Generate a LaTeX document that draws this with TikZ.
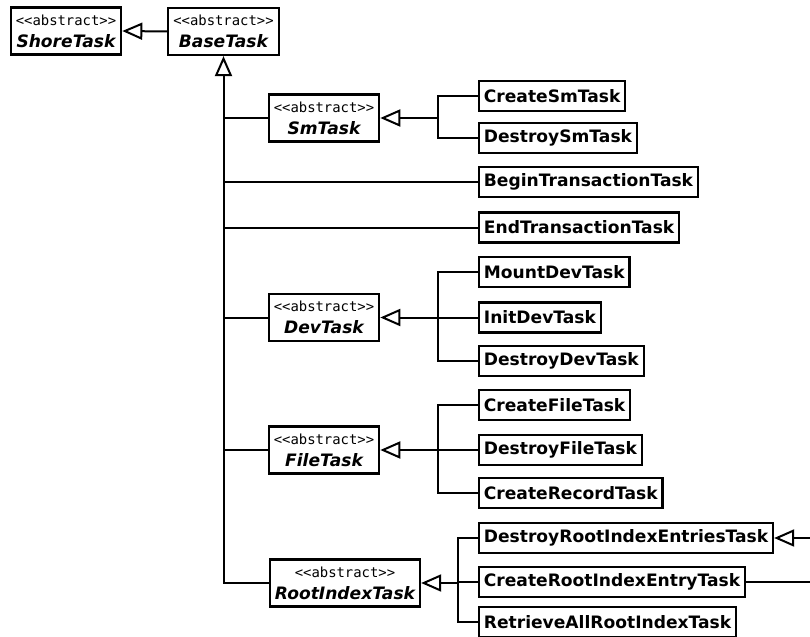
\documentclass[tikz,border=0pt]{standalone}
\usepackage{fontspec}
\usetikzlibrary{arrows.meta}
\newfontfamily\umlfont{DejaVu Sans}
\newfontfamily\stereofont{DejaVu Sans Mono}
\newcommand{\stereo}{{\stereofont\fontsize{6.95pt}{8pt}\selectfont <\kern0pt<abstract>\kern0pt>}}
\tikzset{
  conc/.style={draw, line width=1.1pt, fill=white, anchor=west, inner xsep=2.4pt, inner ysep=0pt,
    minimum height=15pt, font=\umlfont\bfseries\fontsize{8.55pt}{10pt}\selectfont},
  abst/.style={draw, line width=1.1pt, fill=white, align=center, inner xsep=2.5pt, inner ysep=1pt,
    minimum width=55pt, minimum height=23.5pt, font=\umlfont\fontsize{8.55pt}{11pt}\selectfont},
  link/.style={line width=1pt},
  inh/.style={line width=1pt, -{Triangle[open, length=10pt, width=8.5pt, fill=white]}},
}
\newcommand{\aname}[1]{\stereo\\{\bfseries\itshape #1}}
\begin{document}
\begin{tikzpicture}[x=0.5pt, y=-0.5pt]
\useasboundingbox (0,0) rectangle (810,637);

% abstract classes
\node[abst] (shore) at (66,31) {\aname{ShoreTask}};
\node[abst] (base) at (223.5,31.5) {\aname{BaseTask}};
\node[abst] (sm) at (324,118) {\aname{SmTask}};
\node[abst] (dev) at (324,317.5) {\aname{DevTask}};
\node[abst] (file) at (324,450) {\aname{FileTask}};
\node[abst] (root) at (345,583) {\aname{RootIndexTask}};

% concrete tasks
\node[conc] (csm) at (478,96) {CreateSmTask};
\node[conc] (dsm) at (478,138) {DestroySmTask};
\node[conc] (btx) at (478,182) {BeginTransactionTask};
\node[conc] (etx) at (478,227.5) {EndTransactionTask};
\node[conc] (mdev) at (478,272) {MountDevTask};
\node[conc] (idev) at (478,317.5) {InitDevTask};
\node[conc] (ddev) at (478,361) {DestroyDevTask};
\node[conc] (cfile) at (478,405) {CreateFileTask};
\node[conc] (dfile) at (478,450) {DestroyFileTask};
\node[conc] (crec) at (478,493) {CreateRecordTask};
\node[conc] (drie) at (478,538) {DestroyRootIndexEntriesTask};
\node[conc] (crie) at (478,582) {CreateRootIndexEntryTask};
\node[conc] (rair) at (478,622) {RetrieveAllRootIndexTask};

\coordinate (edgeA) at (810,538);
\coordinate (edgeB) at (810,582);
\coordinate (jsm) at (438,118);
\coordinate (jdev) at (438,317.5);
\coordinate (jfile) at (438,450);
\coordinate (jroot) at (458,583);

% generalisation of ShoreTask
\draw[inh] (base.west) -- (shore.east);

% trunk below BaseTask
\draw[inh] (root.west) -| (base.south);
\foreach \n in {sm,btx,etx,dev,file}
  \draw[link] (\n.west) -- (\n.west -| base.south);

% SmTask family
\draw[link] (csm.west) -| (jsm) |- (dsm.west);
\draw[inh] (jsm) -- (sm.east);

% DevTask family
\draw[link] (mdev.west) -| (jdev) |- (ddev.west);
\draw[link] (idev.west) -- (jdev);
\draw[inh] (jdev) -- (dev.east);

% FileTask family
\draw[link] (cfile.west) -| (jfile) |- (crec.west);
\draw[link] (dfile.west) -- (jfile);
\draw[inh] (jfile) -- (file.east);

% RootIndexTask family
\draw[link] (drie.west) -| (jroot) |- (rair.west);
\draw[link] (crie.west) -- (crie.west -| jroot);
\draw[inh] (jroot) -- (root.east);

% links leaving to the right
\draw[inh] (edgeA) -- (drie.east);
\draw[link] (crie.east) -- (edgeB);
\end{tikzpicture}
\end{document}
